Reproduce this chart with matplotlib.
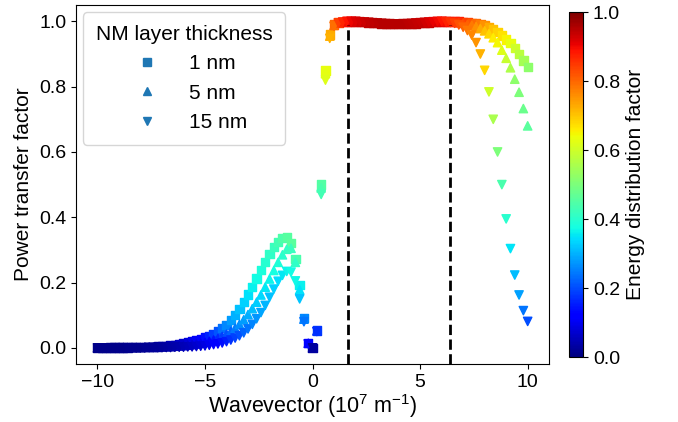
import matplotlib
matplotlib.use("Agg")
import matplotlib.pyplot as plt
import numpy as np
from matplotlib.lines import Line2D

plt.rcParams['font.family'] = ['Liberation Sans', 'DejaVu Sans']
plt.rcParams['mathtext.default'] = 'regular'

wavevector = [
    -10.0, -9.8, -9.6, -9.4, -9.2, -9.0, -8.8, -8.6, -8.4, -8.2,
    -8.0, -7.8, -7.6, -7.4, -7.2, -7.0, -6.8, -6.6, -6.4, -6.2,
    -6.0, -5.8, -5.6, -5.4, -5.2, -5.0, -4.8, -4.6, -4.4, -4.2,
    -4.0, -3.8, -3.6, -3.4, -3.2, -3.0, -2.8, -2.6, -2.4, -2.2,
    -2.0, -1.8, -1.6, -1.4, -1.2, -1.0, -0.8, -0.6, -0.4, -0.2,
    0.0, 0.2, 0.4, 0.6, 0.8, 1.0, 1.2, 1.4, 1.6, 1.8,
    2.0, 2.2, 2.4, 2.6, 2.8, 3.0, 3.2, 3.4, 3.6, 3.8,
    4.0, 4.2, 4.4, 4.6, 4.8, 5.0, 5.2, 5.4, 5.6, 5.8,
    6.0, 6.2, 6.4, 6.6, 6.8, 7.0, 7.2, 7.4, 7.6, 7.8,
    8.0, 8.2, 8.4, 8.6, 8.8, 9.0, 9.2, 9.4, 9.6, 9.8,
    10.0]

power_1nm = [
    0.000, 0.000, 0.000, 0.001, 0.001, 0.001, 0.001, 0.001, 0.002, 0.002,
    0.002, 0.002, 0.003, 0.003, 0.004, 0.005, 0.006, 0.007, 0.009, 0.011,
    0.013, 0.016, 0.019, 0.023, 0.027, 0.032, 0.037, 0.043, 0.051, 0.060,
    0.071, 0.085, 0.101, 0.119, 0.140, 0.163, 0.186, 0.212, 0.238, 0.264,
    0.287, 0.308, 0.325, 0.337, 0.340, 0.322, 0.272, 0.192, 0.092, 0.015,
    0.000, 0.053, 0.500, 0.850, 0.960, 0.990, 0.997, 0.999, 1.000, 1.000,
    1.000, 0.999, 0.998, 0.997, 0.996, 0.995, 0.994, 0.993, 0.993, 0.992,
    0.992, 0.992, 0.993, 0.993, 0.994, 0.995, 0.996, 0.997, 0.998, 0.999,
    1.000, 1.000, 1.000, 1.000, 1.000, 0.999, 0.998, 0.996, 0.994, 0.991,
    0.987, 0.982, 0.975, 0.967, 0.957, 0.945, 0.933, 0.918, 0.900, 0.880,
    0.860]

power_5nm = [
    0.000, 0.000, 0.000, 0.000, 0.000, 0.001, 0.001, 0.001, 0.001, 0.001,
    0.001, 0.002, 0.002, 0.002, 0.003, 0.003, 0.004, 0.004, 0.005, 0.006,
    0.007, 0.008, 0.010, 0.012, 0.014, 0.017, 0.020, 0.024, 0.029, 0.035,
    0.042, 0.050, 0.060, 0.072, 0.086, 0.102, 0.120, 0.140, 0.162, 0.186,
    0.211, 0.237, 0.262, 0.285, 0.302, 0.305, 0.262, 0.178, 0.088, 0.014,
    0.000, 0.052, 0.490, 0.840, 0.955, 0.988, 0.996, 0.999, 1.000, 1.000,
    1.000, 0.999, 0.998, 0.997, 0.996, 0.995, 0.994, 0.993, 0.993, 0.992,
    0.992, 0.992, 0.993, 0.993, 0.994, 0.995, 0.996, 0.997, 0.998, 0.999,
    1.000, 1.000, 0.999, 0.998, 0.996, 0.994, 0.991, 0.988, 0.984, 0.978,
    0.971, 0.962, 0.950, 0.935, 0.912, 0.887, 0.858, 0.823, 0.783, 0.733,
    0.680]

power_15nm = [
    0.000, 0.000, 0.000, 0.000, 0.000, 0.000, 0.000, 0.000, 0.000, 0.000,
    0.000, 0.000, 0.001, 0.001, 0.001, 0.001, 0.001, 0.001, 0.002, 0.002,
    0.002, 0.003, 0.003, 0.004, 0.005, 0.006, 0.008, 0.010, 0.012, 0.015,
    0.019, 0.024, 0.030, 0.037, 0.046, 0.058, 0.072, 0.089, 0.108, 0.130,
    0.155, 0.180, 0.204, 0.222, 0.234, 0.232, 0.205, 0.150, 0.080, 0.012,
    0.000, 0.050, 0.470, 0.820, 0.948, 0.985, 0.995, 0.998, 1.000, 1.000,
    1.000, 0.999, 0.998, 0.997, 0.996, 0.995, 0.994, 0.993, 0.993, 0.992,
    0.992, 0.993, 0.993, 0.994, 0.995, 0.996, 0.997, 0.998, 0.999, 1.000,
    1.000, 0.999, 0.997, 0.994, 0.989, 0.982, 0.972, 0.958, 0.935, 0.900,
    0.850, 0.784, 0.700, 0.600, 0.500, 0.395, 0.304, 0.223, 0.162, 0.114,
    0.081]

energy_1nm = [
    0.010, 0.010, 0.010, 0.012, 0.012, 0.012, 0.013, 0.014, 0.016, 0.018,
    0.020, 0.022, 0.025, 0.028, 0.032, 0.036, 0.041, 0.047, 0.054, 0.062,
    0.070, 0.080, 0.092, 0.105, 0.120, 0.140, 0.160, 0.185, 0.210, 0.235,
    0.258, 0.278, 0.298, 0.316, 0.332, 0.347, 0.360, 0.372, 0.384, 0.396,
    0.408, 0.420, 0.432, 0.444, 0.455, 0.460, 0.440, 0.360, 0.260, 0.120,
    0.030, 0.180, 0.450, 0.630, 0.730, 0.800, 0.850, 0.880, 0.900, 0.915,
    0.925, 0.935, 0.940, 0.945, 0.948, 0.950, 0.950, 0.950, 0.950, 0.950,
    0.950, 0.950, 0.950, 0.950, 0.948, 0.945, 0.942, 0.938, 0.933, 0.928,
    0.920, 0.912, 0.900, 0.890, 0.875, 0.860, 0.840, 0.820, 0.800, 0.780,
    0.755, 0.730, 0.705, 0.685, 0.670, 0.650, 0.630, 0.600, 0.575, 0.550,
    0.520]

energy_5nm = [
    0.010, 0.010, 0.010, 0.011, 0.011, 0.012, 0.012, 0.013, 0.014, 0.016,
    0.018, 0.020, 0.022, 0.025, 0.028, 0.031, 0.035, 0.040, 0.046, 0.052,
    0.059, 0.067, 0.076, 0.086, 0.098, 0.112, 0.128, 0.146, 0.166, 0.186,
    0.206, 0.226, 0.245, 0.263, 0.280, 0.296, 0.311, 0.325, 0.339, 0.352,
    0.365, 0.378, 0.390, 0.402, 0.412, 0.420, 0.410, 0.345, 0.250, 0.115,
    0.030, 0.175, 0.440, 0.625, 0.725, 0.795, 0.845, 0.875, 0.895, 0.910,
    0.920, 0.930, 0.938, 0.943, 0.947, 0.950, 0.950, 0.950, 0.950, 0.950,
    0.950, 0.950, 0.950, 0.948, 0.945, 0.942, 0.938, 0.933, 0.928, 0.920,
    0.910, 0.898, 0.885, 0.870, 0.850, 0.830, 0.805, 0.780, 0.755, 0.730,
    0.705, 0.680, 0.660, 0.645, 0.620, 0.590, 0.560, 0.520, 0.500, 0.480,
    0.460]

energy_15nm = [
    0.010, 0.010, 0.010, 0.010, 0.011, 0.011, 0.011, 0.012, 0.013, 0.014,
    0.015, 0.017, 0.019, 0.021, 0.023, 0.026, 0.029, 0.033, 0.037, 0.042,
    0.047, 0.053, 0.060, 0.068, 0.077, 0.087, 0.098, 0.110, 0.124, 0.139,
    0.155, 0.172, 0.189, 0.206, 0.223, 0.240, 0.256, 0.272, 0.287, 0.302,
    0.316, 0.330, 0.343, 0.355, 0.365, 0.372, 0.370, 0.320, 0.240, 0.110,
    0.030, 0.170, 0.430, 0.620, 0.720, 0.790, 0.840, 0.870, 0.890, 0.905,
    0.915, 0.925, 0.933, 0.940, 0.945, 0.948, 0.950, 0.950, 0.950, 0.950,
    0.950, 0.950, 0.948, 0.945, 0.940, 0.935, 0.928, 0.920, 0.910, 0.900,
    0.888, 0.873, 0.857, 0.840, 0.822, 0.803, 0.785, 0.768, 0.750, 0.720,
    0.680, 0.600, 0.555, 0.500, 0.440, 0.400, 0.350, 0.310, 0.285, 0.240,
    0.200]

boundaries = [1.66, 6.38]
thickness_labels = ['1 nm', '5 nm', '15 nm']
markers = ['s', '^', 'v']

fig = plt.figure(figsize=(6.78, 4.22), dpi=100)
ax = fig.add_axes([0.112, 0.137, 0.698, 0.851])
cax = fig.add_axes([0.839, 0.154, 0.021, 0.817])

cmap = plt.get_cmap('jet')
sc = None
for p, e, m in zip([power_1nm, power_5nm, power_15nm],
                   [energy_1nm, energy_5nm, energy_15nm], markers):
    sc = ax.scatter(wavevector, p, c=e, cmap=cmap, vmin=0, vmax=1,
                    marker=m, s=36)

for b in boundaries:
    ax.plot([b, b], [-0.05, 0.99], color='black', linestyle='--',
            linewidth=2, zorder=5)

ax.set_xlim(-11, 11)
ax.set_ylim(-0.05, 1.05)
ax.set_xticks([-10, -5, 0, 5, 10])
ax.set_yticks([0.0, 0.2, 0.4, 0.6, 0.8, 1.0])
ax.tick_params(labelsize=14)
ax.set_xlabel('Wavevector (10$^{7}$ m$^{-1}$)', fontsize=15.5, labelpad=1)
ax.set_ylabel('Power transfer factor', fontsize=15)

handles = [Line2D([], [], marker=m, color='C0', linestyle='', markersize=6)
           for m in markers]
ax.legend(handles, thickness_labels, title='NM layer thickness',
          loc='upper left', fontsize=15, title_fontsize=15,
          handlelength=2.5, borderpad=0.6, borderaxespad=0.35)

cb = fig.colorbar(sc, cax=cax)
cb.set_label('Energy distribution factor', fontsize=15)
cb.ax.tick_params(labelsize=14)
cb.set_ticks([0.0, 0.2, 0.4, 0.6, 0.8, 1.0])

fig.savefig('out.png', dpi=100)
